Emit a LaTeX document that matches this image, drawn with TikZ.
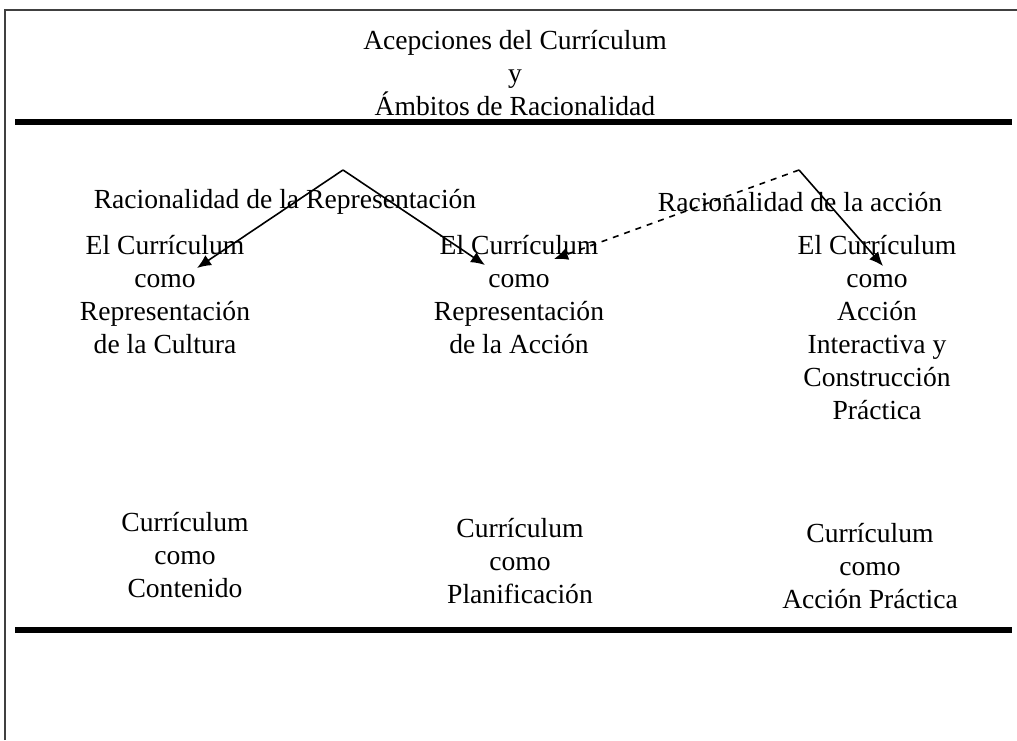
\documentclass[tikz,border=0pt]{standalone}
\usepackage{fontspec}
\setmainfont{Liberation Serif}
\usetikzlibrary{arrows.meta}

\begin{document}
\begin{tikzpicture}[x=0.5pt, y=-0.5pt,
  texte/.style={align=center, font=\fontsize{13.8}{16.5}\selectfont, inner sep=0pt},
  fleche/.style={-{Latex[length=7pt,width=6pt]}, thick}]

\useasboundingbox (0,0) rectangle (1017,740);

% Cadre (haut et gauche)
\draw[gray!50!black, line width=0.6pt] (5,740) -- (5,10) -- (1017,10);

% Titre
\node[texte] (titre) at (515,73) {Acepciones del Currículum\\y\\Ámbitos de Racionalidad};

% Lignes épaisses
\draw[line width=2.7pt] (15,122) -- (1012,122); % Ligne du haut
\draw[line width=2.7pt] (15,630) -- (1012,630); % Ligne du bas

% Rationalités
\node[texte] (racrep) at (285,202) {Racionalidad de la Representación};
\node[texte] (racacc) at (800,202) {Racionalidad de la acción};

% Acceptions du curriculum
\node[texte] (cultura) at (165,295) {El Currículum\\como\\Representación\\de la Cultura};
\node[texte] (accion) at (519,295) {El Currículum\\como\\Representación\\de la Acción};
\node[texte] (interac) at (877,328) {El Currículum\\como\\Acción\\Interactiva y\\Construcción\\Práctica};

% Curriculum comme ...
\node[texte] (contenido) at (185,555) {Currículum\\como\\Contenido};
\node[texte] (planif) at (520,561) {Currículum\\como\\Planificación};
\node[texte] (practica) at (870,566) {Currículum\\como\\Acción Práctica};

% Flèches
\coordinate (sommetA) at (343,170);
\coordinate (sommetB) at (799,170);
\coordinate (finA) at (197,268);
\coordinate (finB) at (485,265);
\coordinate (finC) at (554,259);
\coordinate (finD) at (883,266);

\draw[fleche] (sommetA) -- (finA);
\draw[fleche] (sommetA) -- (finB);
\draw[fleche, dashed] (sommetB) -- (finC);
\draw[fleche] (sommetB) -- (finD);

\end{tikzpicture}
\end{document}
